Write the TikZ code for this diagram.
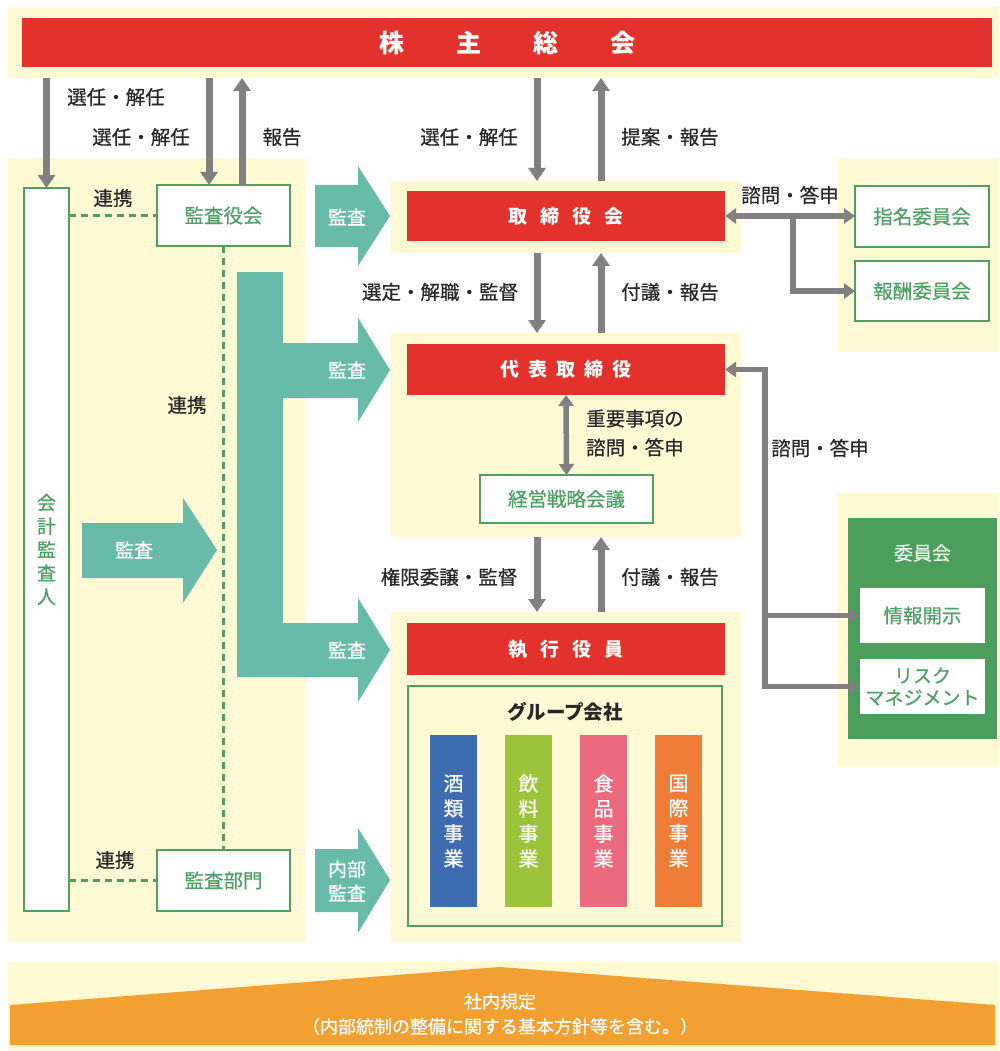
\documentclass[tikz,border=0pt]{standalone}
\usepackage{fontspec}
\setmainfont{Noto Sans CJK JP}
\newfontfamily\jmed{Noto Sans CJK JP}[FakeBold=0.6]
\usetikzlibrary{arrows.meta,calc}
\definecolor{cream}{RGB}{255,249,212}
\definecolor{jred}{RGB}{226,50,43}
\definecolor{jteal}{RGB}{104,187,168}
\definecolor{jgray}{RGB}{128,128,128}
\definecolor{jgreen}{RGB}{78,160,92}
\definecolor{jgtext}{RGB}{78,160,100}
\definecolor{jgfill}{RGB}{76,158,92}
\definecolor{jblue}{RGB}{62,108,176}
\definecolor{jlime}{RGB}{156,196,58}
\definecolor{jpink}{RGB}{236,106,126}
\definecolor{jorange}{RGB}{238,124,54}
\definecolor{jbanner}{RGB}{242,160,50}
\definecolor{labeltxt}{RGB}{40,40,40}
\tikzset{
  gtip/.tip={Triangle[length=11pt,width=15pt]},
  btip/.tip={Triangle[length=13pt,width=17pt]},
  panel/.style={fill=cream, draw=none, inner sep=0pt, outer sep=0pt},
  redbar/.style={fill=jred, text=white, inner sep=0pt, outer sep=0pt, font=\bfseries\fontsize{19}{19}\selectfont},
  gbox/.style={draw=jgreen, line width=2.5pt, fill=white, text=jgtext, inner sep=0pt, outer sep=0pt, font=\jmed\fontsize{19.5}{23}\selectfont, align=center},
  lbl/.style={text=labeltxt, inner sep=0pt, font=\jmed\fontsize{19.5}{29}\selectfont},
  ttxt/.style={text=white, inner sep=0pt, font=\jmed\fontsize{19}{24}\selectfont, align=center},
  garrow/.style={draw=jgray, line width=7pt, -{btip}},
  gthin/.style={draw=jgray, line width=5.5pt},
  gdash/.style={draw=jgreen, line width=2.5pt, dash pattern=on 7pt off 5pt},
  bizbar/.style={inner sep=0pt, text=white, minimum width=47pt, minimum height=172pt, font=\jmed\fontsize{20}{25}\selectfont, align=center},
}
\begin{document}
\begin{tikzpicture}[x=1pt,y=-1pt]
\useasboundingbox (0,0) rectangle (999,1051);
\fill[white] (0,0) rectangle (999,1051);

% ---------- panels ----------
\node[panel, minimum width=991pt, minimum height=71pt] (top) at (503.5,42.5) {};
\node[panel, minimum width=298pt, minimum height=784pt] (leftp) at (157,550) {};
\node[panel, minimum width=350pt, minimum height=72pt] (panel1) at (566,217) {};
\node[panel, minimum width=350pt, minimum height=204pt] (panel2) at (566,435) {};
\node[panel, minimum width=350pt, minimum height=330pt] (panel3) at (566,777) {};
\node[panel, minimum width=161pt, minimum height=194pt] (rtop) at (918.5,255) {};
\node[panel, minimum width=161pt, minimum height=274pt] (rbot) at (918.5,630) {};
\node[panel, minimum width=991pt, minimum height=90pt] (botp) at (503.5,1006) {};

% ---------- red bars ----------
\node[redbar, minimum width=970pt, minimum height=49pt, font=\bfseries\fontsize{25}{25}\selectfont] (gm) at (507,42.5)
  {株\hspace{52pt}主\hspace{52pt}総\hspace{52pt}会};
\node[redbar, minimum width=318pt, minimum height=50pt] (tori) at (566,216)
  {取\hspace{13pt}締\hspace{13pt}役\hspace{13pt}会};
\node[redbar, minimum width=318pt, minimum height=51pt] (daihyo) at (566,369.5)
  {代\hspace{9pt}表\hspace{9pt}取\hspace{9pt}締\hspace{9pt}役};
\node[redbar, minimum width=318pt, minimum height=52pt] (shikko) at (566,649)
  {執\hspace{13pt}行\hspace{13pt}役\hspace{13pt}員};

% ---------- green boxes ----------
\node[gbox, minimum width=45pt, minimum height=723pt, font=\jmed\fontsize{19}{23.5}\selectfont] (kaikei) at (46.5,549.5)
  {会\\計\\監\\査\\人};
\node[gbox, minimum width=133pt, minimum height=61pt] (kansayaku) at (223.5,215.5) {監査役会};
\node[gbox, minimum width=133pt, minimum height=61pt] (kansabumon) at (223.5,880.5) {監査部門};
\node[gbox, minimum width=173pt, minimum height=48pt] (keiei) at (566.5,499) {経営戦略会議};
\node[gbox, minimum width=134pt, minimum height=61pt] (shimei) at (922,216.5) {指名委員会};
\node[gbox, minimum width=134pt, minimum height=60pt] (hoshu) at (922,291) {報酬委員会};
\node[draw=jgreen, line width=2.5pt, minimum width=314pt, minimum height=240pt, inner sep=0pt] (group) at (565,806) {};
\node[lbl, font=\bfseries\fontsize{19.5}{19.5}\selectfont] (grouptitle) at (565,712) {グループ会社};

% business bars
\node[bizbar, fill=jblue] (biz1) at (453.5,821) {酒\\類\\事\\業};
\node[bizbar, fill=jlime] (biz2) at (528.5,821) {飲\\料\\事\\業};
\node[bizbar, fill=jpink] (biz3) at (603.5,821) {食\\品\\事\\業};
\node[bizbar, fill=jorange] (biz4) at (678.5,821) {国\\際\\事\\業};

% committee block
\node[fill=jgfill, minimum width=149pt, minimum height=221pt, inner sep=0pt] (iinkai) at (922.5,628.5) {};
\node[text=white!88!jgfill, inner sep=0pt, font=\jmed\fontsize{19}{19}\selectfont] (iinkaititle) at (922.5,553) {委員会};
\node[fill=white, text=jgtext, minimum width=125pt, minimum height=55pt, inner sep=0pt, font=\jmed\fontsize{19.5}{19.5}\selectfont] (joho) at (922.5,615.5) {情報開示};
\node[fill=white, text=jgtext, minimum width=125pt, minimum height=55pt, inner sep=0pt, align=center, font=\jmed\fontsize{19}{22}\selectfont] (risk) at (922.5,686.5) {リスク\\マネジメント};

% ---------- teal arrows ----------
\fill[jteal] (315,185) -- (358,185) -- (358,166) -- (390,216) -- (358,266) -- (358,247) -- (315,247) -- cycle;
\fill[jteal] (237,272) -- (283,272) -- (283,343) -- (358,343) -- (358,318) -- (390,370) -- (358,422) -- (358,398) -- (283,398)
  -- (283,623) -- (358,623) -- (358,598) -- (390,650) -- (358,702) -- (358,677) -- (237,677) -- cycle;
\fill[jteal] (82,523) -- (183,523) -- (183,498) -- (217,550) -- (183,603) -- (183,578) -- (82,578) -- cycle;
\fill[jteal] (315,849) -- (358,849) -- (358,828) -- (390,880) -- (358,933) -- (358,912) -- (315,912) -- cycle;
\node[ttxt] (t1) at (347,217) {監査};
\node[ttxt] (t2) at (347,370) {監査};
\node[ttxt] (t3) at (347,650) {監査};
\node[ttxt] (t4) at (134,550) {監査};
\node[ttxt] (t5) at (347,881) {内部\\監査};

% ---------- dashed links ----------
\draw[gdash] (kaikei.east |- kansayaku.west) -- (kansayaku.west);
\draw[gdash] (kaikei.east |- kansabumon.west) -- (kansabumon.west);
\draw[gdash] (kansayaku.south) -- (kansabumon.north);
\node[lbl] (l_renkei1) at (113,198) {連携};
\node[lbl] (l_renkei2) at (187,405) {連携};
\node[lbl] (l_renkei3) at (115,860) {連携};

% ---------- gray arrows ----------
\coordinate (ka1) at ([xshift=-14.5pt]kansayaku.north);
\coordinate (ka2) at ([xshift=18.5pt]kansayaku.north);
\coordinate (d1) at (537,0);
\coordinate (u1) at (601,0);
\draw[garrow] (top.south -| kaikei.north) -- (kaikei.north);
\draw[garrow] (top.south -| ka1) -- (ka1);
\draw[garrow] (ka2) -- (top.south -| ka2);
\draw[garrow] (top.south -| d1) -- (panel1.north -| d1);
\draw[garrow] (panel1.north -| u1) -- (top.south -| u1);
\draw[garrow] (panel1.south -| d1) -- (panel2.north -| d1);
\draw[garrow] (panel2.north -| u1) -- (panel1.south -| u1);
\draw[garrow] (panel2.south -| d1) -- (panel3.north -| d1);
\draw[garrow] (panel3.north -| u1) -- (panel2.south -| u1);
\draw[gthin, {gtip}-{gtip}] (daihyo.south) -- (keiei.north);

\node[lbl] (l1) at (116,97) {選任・解任};
\node[lbl] (l2) at (141,137) {選任・解任};
\node[lbl] (l3) at (282,137) {報告};
\node[lbl] (l4) at (469,137) {選任・解任};
\node[lbl] (l5) at (670,137) {提案・報告};
\node[lbl] (l6) at (440,292) {選定・解職・監督};
\node[lbl] (l7) at (670,292) {付議・報告};
\node[lbl, anchor=west, align=left] (l8) at (586,433) {重要事項の\\諮問・答申};
\node[lbl] (l9) at (449,577) {権限委譲・監督};
\node[lbl] (l10) at (670,577) {付議・報告};

% right connectors
\coordinate (br1) at (793,216);
\draw[gthin, {gtip}-{gtip}] (tori.east) -- (tori.east -| shimei.west);
\draw[gthin, -{gtip}] (br1) |- (hoshu.west);
\node[lbl] (l11) at (790,195) {諮問・答申};

\coordinate (jx) at (765,686.5);
\draw[gthin, {gtip}-{gtip}] (daihyo.east) -| (jx) |- (risk.west);
\draw[gthin, -{gtip}] (jx |- joho.west) -- (joho.west);
\node[lbl] (l12) at (820,448) {諮問・答申};

% ---------- bottom banner ----------
\fill[jbanner] (10,1005) -- (500,967) -- (995,1005) -- (995,1045) -- (10,1045) -- cycle;
\node[text=white, inner sep=0pt, align=center, font=\jmed\fontsize{18}{25}\selectfont] (kitei) at (500,1014)
  {社内規定\\（内部統制の整備に関する基本方針等を含む。）};
\end{tikzpicture}
\end{document}
